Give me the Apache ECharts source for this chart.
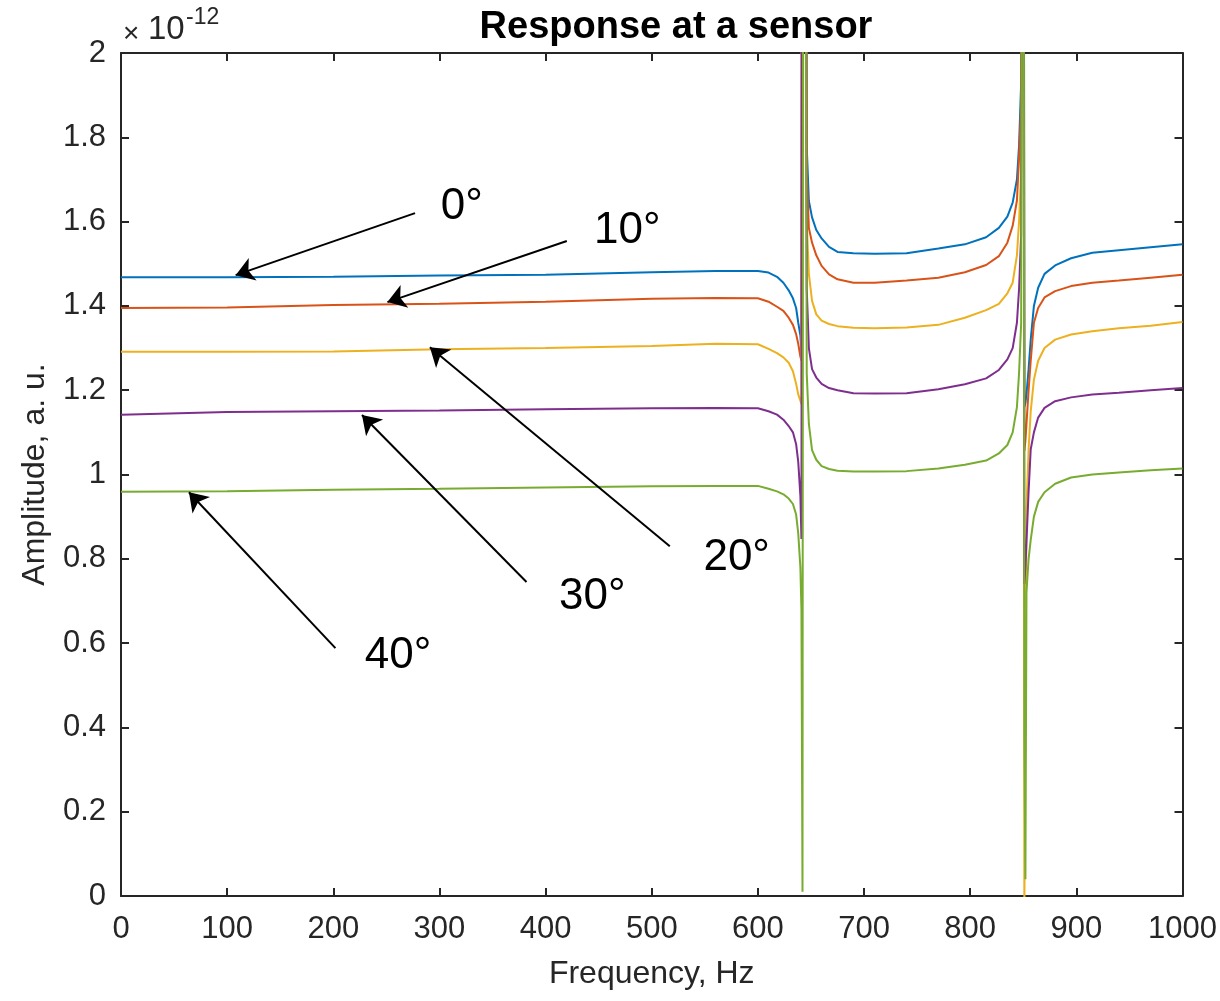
<!DOCTYPE html>
<html>
<head>
<meta charset="utf-8">
<script src="https://cdn.jsdelivr.net/npm/echarts@6/dist/echarts.min.js"></script>
<style>
  html, body { margin: 0; padding: 0; background: #fff; }
  #chart { width: 1220px; height: 1001px; }
</style>
</head>
<body>
<div id="chart"></div>
<script>
// frequency samples, Hz
const freq = [0, 100, 200, 300, 400, 500, 560, 600, 610, 618, 624, 629, 633, 636, 638, 640, 641,
  642, 643, 644,
  646, 648, 651, 655, 660, 667, 675, 690, 710, 740, 770, 795,
  815, 827, 835, 840, 844, 846, 848,
  850,
  851, 852, 853, 855, 857, 860, 864, 870, 880, 895, 915, 940, 970, 1000];

// amplitude, x 1e-12
const amp0 = [1.468, 1.468, 1.469, 1.472, 1.474, 1.480, 1.483, 1.483, 1.479, 1.469, 1.455, 1.437, 1.418, 1.395, 1.36, 1.33, 1.29,
  4, 4, 4,
  1.777, 1.649, 1.61, 1.58, 1.56, 1.54, 1.528, 1.525, 1.524, 1.525, 1.536, 1.546,
  1.563, 1.585, 1.612, 1.645, 1.70, 1.78, 1.93,
  4,
  1.16, 1.17, 1.19, 1.25, 1.32, 1.40, 1.443, 1.476, 1.496, 1.513, 1.526, 1.532, 1.539, 1.546];
const amp10 = [1.395, 1.396, 1.402, 1.405, 1.410, 1.417, 1.419, 1.418, 1.41, 1.398, 1.388, 1.372, 1.355, 1.333, 1.31, 1.28, 1.27,
  4, 4, 4,
  1.72, 1.585, 1.55, 1.52, 1.495, 1.475, 1.463, 1.455, 1.455, 1.46, 1.467, 1.48,
  1.497, 1.518, 1.55, 1.59, 1.65, 1.75, 1.88,
  4,
  1.056, 1.08, 1.12, 1.20, 1.27, 1.36, 1.395, 1.42, 1.435, 1.447, 1.455, 1.46, 1.467, 1.474];
const amp20 = [1.291, 1.291, 1.292, 1.297, 1.300, 1.305, 1.310, 1.309, 1.298, 1.288, 1.278, 1.265, 1.245, 1.215, 1.19, 1.175, 1.167,
  4, 4, 4,
  1.60, 1.476, 1.412, 1.38, 1.365, 1.357, 1.352, 1.348, 1.347, 1.349, 1.355, 1.372,
  1.39, 1.405, 1.43, 1.455, 1.52, 1.60, 1.72,
  4,
  -0.05, 0.5, 0.92, 1.06, 1.15, 1.225, 1.27, 1.30, 1.32, 1.332, 1.34, 1.347, 1.353, 1.362];
const amp30 = [1.142, 1.148, 1.150, 1.152, 1.155, 1.157, 1.158, 1.157, 1.150, 1.142, 1.13, 1.115, 1.10, 1.072, 1.03, 0.95, 0.847,
  4, 4, 4,
  1.44, 1.30, 1.25, 1.23, 1.215, 1.205, 1.20, 1.193, 1.192, 1.193, 1.202, 1.214,
  1.228, 1.248, 1.273, 1.30, 1.36, 1.44, 1.57,
  4,
  0.74, 0.78, 0.84, 0.96, 1.06, 1.10, 1.135, 1.158, 1.174, 1.183, 1.19, 1.194, 1.20, 1.205];
const amp40 = [0.959, 0.960, 0.964, 0.966, 0.969, 0.972, 0.973, 0.973, 0.966, 0.960, 0.953, 0.943, 0.93, 0.905, 0.86, 0.78, 0.68,
  0.01, 4, 4,
  1.24, 1.12, 1.058, 1.035, 1.02, 1.013, 1.009, 1.007, 1.007, 1.008, 1.014, 1.023,
  1.033, 1.05, 1.07, 1.10, 1.16, 1.24, 1.36,
  4,
  0.37, 0.04, 0.72, 0.80, 0.845, 0.90, 0.935, 0.958, 0.978, 0.993, 1.0, 1.005, 1.01, 1.014];

const angleLabels = ['0°', '10°', '20°', '30°', '40°'];
// annotations in data coords [Hz, amplitude]
const labelAt = [[321, 1.635], [477, 1.577], [580, 0.803], [444, 0.709], [261, 0.569]];
const arrowFrom = [[277, 1.620], [420, 1.554], [517, 0.830], [382, 0.745], [202, 0.588]];
const arrowTo = [[108, 1.473], [251, 1.409], [291, 1.302], [227, 1.141], [64, 0.958]];

const colors = ['#0072BD', '#D95319', '#EDB120', '#7E2F8E', '#77AC30'];
const font = 'Liberation Sans, Arial, Helvetica, sans-serif';
const axisColor = '#262626';

const chart = echarts.init(document.getElementById('chart'));

const pairs = arr => freq.map((f, i) => [f, arr[i]]);

const baseAxis = {
  type: 'value',
  axisLine: { show: true, onZero: false, lineStyle: { color: axisColor, width: 2 } },
  axisTick: { show: true, inside: true, length: 8, lineStyle: { color: axisColor, width: 2 } },
  splitLine: { show: false },
};

const series = [amp0, amp10, amp20, amp30, amp40].map((arr, i) => ({
  name: angleLabels[i],
  type: 'line',
  data: pairs(arr),
  showSymbol: false,
  symbol: 'none',
  lineStyle: { width: 2, color: colors[i] },
  itemStyle: { color: colors[i] },
  animation: false,
}));

series[4].markLine = {
  silent: true,
  animation: false,
  symbol: ['none', 'arrow'],
  symbolSize: 18,
  label: { show: false },
  lineStyle: { color: '#000', width: 2, type: 'solid' },
  data: arrowFrom.map((p, i) => [{ coord: p }, { coord: arrowTo[i] }]),
};
series[4].markPoint = {
  silent: true,
  animation: false,
  symbol: 'circle',
  symbolSize: 0,
  label: {
    show: true,
    position: 'inside',
    formatter: p => p.name,
    fontSize: 44,
    color: '#000',
    fontFamily: font,
  },
  data: labelAt.map((p, i) => ({ name: angleLabels[i], coord: p })),
};

const option = {
  backgroundColor: '#fff',
  animation: false,
  title: {
    text: 'Response at a sensor',
    left: 671,
    top: 4,
    textAlign: 'center',
    textStyle: { fontSize: 38, fontWeight: 'bold', color: '#000', fontFamily: font },
  },
  grid: { left: 121, right: 35, top: 53, bottom: 105 },
  xAxis: [
    {
      ...baseAxis,
      position: 'bottom',
      min: 0, max: 1000, interval: 100,
      axisLabel: { fontSize: 31, color: axisColor, fontFamily: font, margin: 18, formatter: v => String(v) },
      name: 'Frequency, Hz',
      nameLocation: 'middle',
      nameGap: 62,
      nameTextStyle: { fontSize: 32, color: axisColor, fontFamily: font },
    },
    {
      ...baseAxis,
      position: 'top',
      min: 0, max: 1000, interval: 100,
      axisLabel: { show: false },
    },
  ],
  yAxis: [
    {
      ...baseAxis,
      position: 'left',
      min: 0, max: 2, interval: 0.2,
      axisLabel: {
        fontSize: 31, color: axisColor, fontFamily: font, margin: 15,
        formatter: v => String(Math.round(v * 10) / 10),
      },
      name: 'Amplitude, a. u.',
      nameLocation: 'middle',
      nameGap: 70,
      nameTextStyle: { fontSize: 32, color: axisColor, fontFamily: font },
    },
    {
      ...baseAxis,
      position: 'right',
      min: 0, max: 2, interval: 0.2,
      axisLabel: { show: false },
    },
  ],
  graphic: [
    { type: 'text', left: 123, top: 20, style: { text: '×', fontSize: 28, fill: axisColor, fontFamily: font } },
    { type: 'text', left: 148, top: 13, style: { text: '10', fontSize: 33, fill: axisColor, fontFamily: font } },
    { type: 'text', left: 186, top: 6, style: { text: '-12', fontSize: 23, fill: axisColor, fontFamily: font } },
  ],
  series,
};

chart.setOption(option);
</script>
</body>
</html>
